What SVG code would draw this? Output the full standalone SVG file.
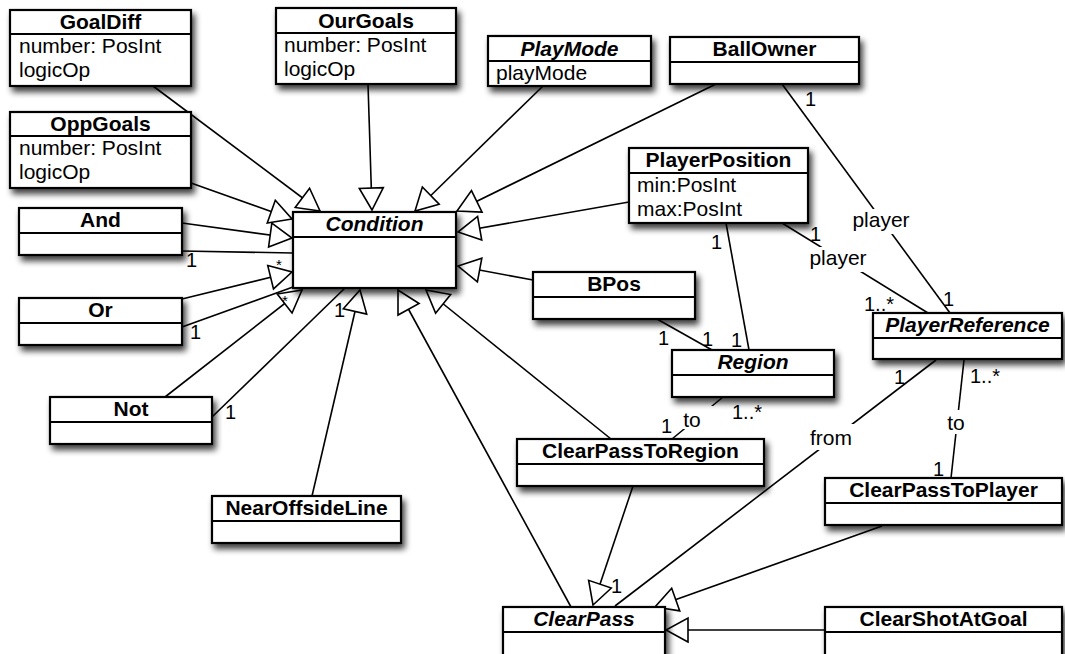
<svg xmlns="http://www.w3.org/2000/svg" width="1065" height="654" viewBox="0 0 1065 654">
  <style>
    text { font-family: "Liberation Sans", Arial, Helvetica, sans-serif; fill: #000; }
    .box { fill: #fff; stroke: #000; stroke-width: 2.2; filter: url(#shadow); }
    .sep { stroke: #000; stroke-width: 2; }
    .name { font-size: 21px; font-weight: bold; text-anchor: middle; }
    .abs { font-style: italic; }
    .attr { font-size: 21px; }
    .lbl { font-size: 20px; }
    .star { font-size: 15px; }
    .role { font-size: 21px; text-anchor: middle; }
    .gen { fill: none; stroke: #000; stroke-width: 1.6; marker-end: url(#inherit); }
    .assoc { fill: none; stroke: #000; stroke-width: 1.6; }
    .bg { fill: #fff; }
  </style>
  <defs>
    <filter id="shadow" x="-20%" y="-30%" width="150%" height="190%">
      <feGaussianBlur in="SourceAlpha" stdDeviation="3.2"/>
      <feOffset dx="3" dy="5" result="off"/>
      <feComponentTransfer><feFuncA type="linear" slope="0.75"/></feComponentTransfer>
      <feMerge><feMergeNode/><feMergeNode in="SourceGraphic"/></feMerge>
    </filter>
    <!-- hollow generalization arrowhead -->
    <marker id="inherit" markerUnits="userSpaceOnUse" viewBox="-1 -1 24 26" markerWidth="24" markerHeight="26" refX="22" refY="12" orient="auto" overflow="visible">
      <path d="M0,0 L22,12 L0,24 Z" fill="#fff" stroke="#000" stroke-width="1.6"/>
    </marker>
  </defs>

  <g id="connectors">
    <!-- generalizations into Condition -->
    <line class="gen" x1="153" y1="86" x2="320" y2="211"/>
    <line class="gen" x1="368" y1="84" x2="372" y2="210"/>
    <line class="gen" x1="543" y1="86" x2="415" y2="211"/>
    <line class="gen" x1="716" y1="84" x2="457" y2="211"/>
    <line class="gen" x1="191" y1="183" x2="292" y2="219"/>
    <line class="gen" x1="182" y1="223" x2="292" y2="238"/>
    <line class="gen" x1="182" y1="299" x2="292" y2="272"/>
    <line class="gen" x1="165" y1="397" x2="302" y2="290"/>
    <line class="gen" x1="312" y1="496" x2="360" y2="290"/>
    <line class="gen" x1="571" y1="607" x2="398" y2="290"/>
    <line class="gen" x1="611" y1="439" x2="426" y2="290"/>
    <line class="gen" x1="629" y1="202" x2="458" y2="232"/>
    <line class="gen" x1="533" y1="280" x2="458" y2="266"/>
    <!-- generalizations into ClearPass -->
    <line class="gen" x1="633" y1="486" x2="593" y2="605"/>
    <line class="gen" x1="882" y1="526" x2="655" y2="607"/>
    <line class="gen" x1="825" y1="630" x2="666" y2="630"/>

    <!-- associations -->
    <line class="assoc" x1="182" y1="251" x2="293" y2="253"/>
    <text class="lbl" x="186" y="267">1</text>
    <text class="star" x="276" y="270">*</text>

    <line class="assoc" x1="182" y1="327" x2="293" y2="287"/>
    <text class="lbl" x="190" y="339">1</text>
    <text class="star" x="282" y="306">*</text>

    <line class="assoc" x1="212" y1="417" x2="345" y2="288"/>
    <text class="lbl" x="225" y="419">1</text>
    <text class="lbl" x="334" y="317">1</text>

    <line class="assoc" x1="782" y1="84" x2="950" y2="313"/>
    <rect class="bg" x="849" y="209" width="66" height="25"/>
    <text class="role" x="881" y="227">player</text>
    <text class="lbl" x="805" y="106">1</text>
    <text class="lbl" x="943" y="306">1</text>

    <line class="assoc" x1="782" y1="223" x2="928" y2="313"/>
    <rect class="bg" x="806" y="247" width="66" height="25"/>
    <text class="role" x="838" y="265">player</text>
    <text class="lbl" x="810" y="241">1</text>
    <text class="lbl" x="864" y="311">1..*</text>

    <line class="assoc" x1="726" y1="223" x2="749" y2="350"/>
    <text class="lbl" x="711" y="249">1</text>
    <text class="lbl" x="731" y="347">1</text>

    <line class="assoc" x1="657" y1="319" x2="712" y2="350"/>
    <text class="lbl" x="658" y="345">1</text>
    <text class="lbl" x="702" y="346">1</text>

    <line class="assoc" x1="723" y1="397" x2="672" y2="439"/>
    <rect class="bg" x="675" y="406" width="38" height="23"/>
    <text class="role" x="692" y="427">to</text>
    <text class="lbl" x="661" y="433">1</text>
    <text class="lbl" x="732" y="419">1..*</text>

    <line class="assoc" x1="936" y1="360" x2="615" y2="606"/>
    <rect class="bg" x="805" y="424" width="53" height="26"/>
    <text class="role" x="831" y="445">from</text>
    <text class="lbl" x="894" y="384">1</text>
    <text class="lbl" x="611" y="593">1</text>

    <line class="assoc" x1="964" y1="360" x2="951" y2="478"/>
    <rect class="bg" x="944" y="410" width="24" height="24"/>
    <text class="role" x="956" y="430">to</text>
    <text class="lbl" x="970" y="383">1..*</text>
    <text class="lbl" x="933" y="476">1</text>
  </g>

  <g id="GoalDiff">
    <rect class="box" x="10" y="10" width="181" height="76"/>
    <line class="sep" x1="10" y1="34" x2="191" y2="34"/>
    <text class="name" x="100.5" y="29">GoalDiff</text>
    <text class="attr" x="19" y="53">number: PosInt</text>
    <text class="attr" x="19" y="77">logicOp</text>
  </g>
  <g id="OppGoals">
    <rect class="box" x="10" y="112" width="181" height="76"/>
    <line class="sep" x1="10" y1="136" x2="191" y2="136"/>
    <text class="name" x="100.5" y="131">OppGoals</text>
    <text class="attr" x="19" y="155">number: PosInt</text>
    <text class="attr" x="19" y="179">logicOp</text>
  </g>
  <g id="OurGoals">
    <rect class="box" x="276" y="8" width="180" height="76"/>
    <line class="sep" x1="276" y1="33" x2="456" y2="33"/>
    <text class="name" x="366" y="28">OurGoals</text>
    <text class="attr" x="284" y="52">number: PosInt</text>
    <text class="attr" x="284" y="76">logicOp</text>
  </g>
  <g id="PlayMode">
    <rect class="box" x="488" y="36" width="163" height="50"/>
    <line class="sep" x1="488" y1="61" x2="651" y2="61"/>
    <text class="name abs" x="569.5" y="56">PlayMode</text>
    <text class="attr" x="496" y="80">playMode</text>
  </g>
  <g id="BallOwner">
    <rect class="box" x="670" y="37" width="189" height="47"/>
    <line class="sep" x1="670" y1="62" x2="859" y2="62"/>
    <text class="name" x="764.5" y="56">BallOwner</text>
  </g>
  <g id="PlayerPosition">
    <rect class="box" x="629" y="148" width="179" height="75"/>
    <line class="sep" x1="629" y1="173" x2="808" y2="173"/>
    <text class="name" x="718.5" y="167">PlayerPosition</text>
    <text class="attr" x="637" y="192">min:PosInt</text>
    <text class="attr" x="637" y="216">max:PosInt</text>
  </g>
  <g id="Condition">
    <rect class="box" x="293" y="212" width="163" height="76"/>
    <line class="sep" x1="293" y1="237" x2="456" y2="237"/>
    <text class="name abs" x="374.5" y="231">Condition</text>
  </g>
  <g id="And">
    <rect class="box" x="19" y="208" width="163" height="47"/>
    <line class="sep" x1="19" y1="233" x2="182" y2="233"/>
    <text class="name" x="100.5" y="227">And</text>
  </g>
  <g id="Or">
    <rect class="box" x="19" y="298" width="163" height="47"/>
    <line class="sep" x1="19" y1="323" x2="182" y2="323"/>
    <text class="name" x="100.5" y="317">Or</text>
  </g>
  <g id="Not">
    <rect class="box" x="50" y="397" width="162" height="47"/>
    <line class="sep" x1="50" y1="422" x2="212" y2="422"/>
    <text class="name" x="131" y="416">Not</text>
  </g>
  <g id="NearOffsideLine">
    <rect class="box" x="212" y="496" width="189" height="47"/>
    <line class="sep" x1="212" y1="521" x2="401" y2="521"/>
    <text class="name" x="306.5" y="515">NearOffsideLine</text>
  </g>
  <g id="BPos">
    <rect class="box" x="533" y="272" width="162" height="47"/>
    <line class="sep" x1="533" y1="297" x2="695" y2="297"/>
    <text class="name" x="614" y="291">BPos</text>
  </g>
  <g id="Region">
    <rect class="box" x="672" y="350" width="162" height="47"/>
    <line class="sep" x1="672" y1="375" x2="834" y2="375"/>
    <text class="name abs" x="753" y="369">Region</text>
  </g>
  <g id="PlayerReference">
    <rect class="box" x="873" y="313" width="189" height="46"/>
    <line class="sep" x1="873" y1="338" x2="1062" y2="338"/>
    <text class="name abs" x="967.5" y="332">PlayerReference</text>
  </g>
  <g id="ClearPassToRegion">
    <rect class="box" x="517" y="439" width="247" height="47"/>
    <line class="sep" x1="517" y1="464" x2="764" y2="464"/>
    <text class="name" x="640.5" y="458">ClearPassToRegion</text>
  </g>
  <g id="ClearPassToPlayer">
    <rect class="box" x="825" y="478" width="237" height="47"/>
    <line class="sep" x1="825" y1="503" x2="1062" y2="503"/>
    <text class="name" x="943.5" y="497">ClearPassToPlayer</text>
  </g>
  <g id="ClearShotAtGoal">
    <rect class="box" x="825" y="607" width="237" height="52"/>
    <line class="sep" x1="825" y1="632" x2="1062" y2="632"/>
    <text class="name" x="943.5" y="626">ClearShotAtGoal</text>
  </g>
  <g id="ClearPass">
    <rect class="box" x="503" y="607" width="162" height="52"/>
    <line class="sep" x1="503" y1="632" x2="665" y2="632"/>
    <text class="name abs" x="584" y="626">ClearPass</text>
  </g>
</svg>
